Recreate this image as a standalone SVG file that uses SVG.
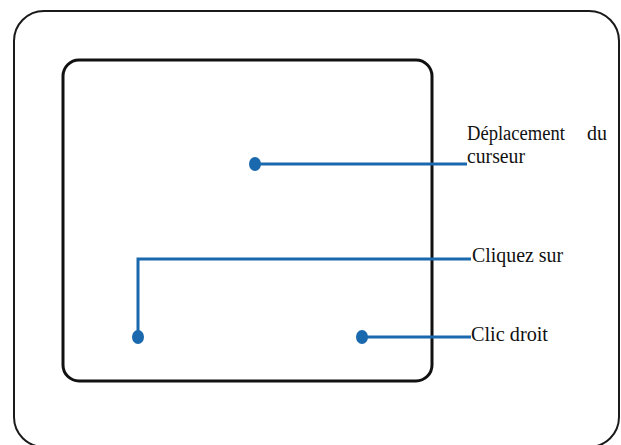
<svg xmlns="http://www.w3.org/2000/svg" width="621" height="445" viewBox="0 0 621 445">
<style>
.frame{fill:none;stroke:#1a1a1a;stroke-width:2}
.pad{fill:none;stroke:#111;stroke-width:3}
.conn{fill:none;stroke:#1a68ad;stroke-width:3}
.dot{fill:#1a68ad}
.lbl{font-family:"Liberation Serif","Times New Roman",serif;font-size:20px;fill:#111}
</style>
<rect width="621" height="445" fill="#fff"/>
<g id="outer-frame"><rect class="frame" x="14" y="11" width="605" height="436" rx="30" ry="30"/></g>
<g id="touchpad"><rect class="pad" x="63" y="60" width="369" height="321" rx="16" ry="16"/></g>
<g id="connectors">
<path class="conn" d="M255 164 H467"/>
<path class="conn" d="M138 337 V259 H471"/>
<path class="conn" d="M362 337 H471"/>
</g>
<g id="node-deplacement">
<ellipse class="dot" cx="255" cy="164" rx="6" ry="7"/>
<text class="lbl" x="467" y="140" textLength="98" lengthAdjust="spacingAndGlyphs">Déplacement</text>
<text class="lbl" x="587" y="140">du</text>
<text class="lbl" x="467" y="163" textLength="58" lengthAdjust="spacingAndGlyphs">curseur</text>
</g>
<g id="node-cliquez">
<ellipse class="dot" cx="138" cy="337" rx="6" ry="7"/>
<text class="lbl" x="472" y="262" textLength="91" lengthAdjust="spacingAndGlyphs">Cliquez sur</text>
</g>
<g id="node-clic-droit">
<ellipse class="dot" cx="362" cy="337" rx="6" ry="7"/>
<text class="lbl" x="471" y="341" textLength="77" lengthAdjust="spacingAndGlyphs">Clic droit</text>
</g>
</svg>
